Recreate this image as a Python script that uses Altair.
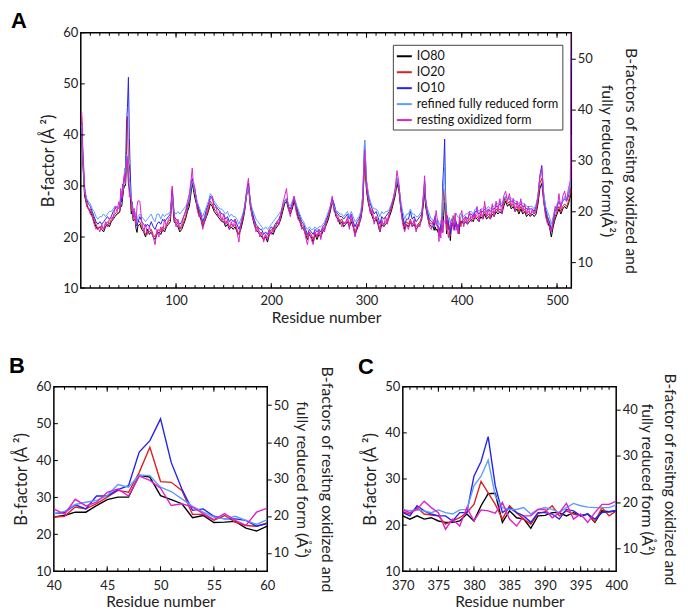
import altair as alt
import pandas as pd

SERIES = ["IO80", "IO20", "IO10", "refined fully reduced form", "resting oxidized form"]
COLORS = ["#000000", "#dd2222", "#2424ee", "#5c9dff", "#dd22cc"]

# rows: (residue, IO80, IO20, IO10, refined fully reduced, resting oxidized) -- B-factor (left axis units)
A_START = [
    (1, 41.5, 43.5, 42.5, 42, 44.5), (2, 35, 36, 37, 36, 38), (4, 28, 28.5, 29.5, 29, 30),
    (6, 26.5, 27, 27.5, 27.5, 26), (8, 25.5, 25.5, 26.5, 27, 25.5), (10, 25, 25.5, 26, 26.5, 24.5),
    (12, 24, 24.5, 25, 25.5, 24), (14, 23, 23.5, 24, 25, 22.5), (16, 22, 22.5, 23, 24, 21.5),
    (18, 21.5, 21.5, 22.5, 23.5, 22), (20, 22, 22, 23, 24, 21), (22, 21.5, 22, 22.5, 24, 22.5),
    (24, 21, 21.5, 23, 24.5, 21.5), (26, 22, 22.5, 23.5, 24, 23), (28, 22.5, 23, 24, 24.5, 22),
    (30, 22, 22.5, 23.5, 25, 23.5), (32, 23, 23.5, 24, 25, 24), (34, 23.5, 24, 25, 25.5, 23.5),
    (36, 24, 24.5, 25.5, 26, 26), (38, 24.5, 25, 26, 26, 25),
]

B_ZOOM = [
    (40, 24.7, 24.7, 25.6, 25.6, 26.9), (41, 25.1, 24.9, 25.9, 26.2, 25.4), (42, 26.0, 27.4, 28.0, 28.1, 29.5),
    (43, 26.0, 26.9, 26.9, 28.7, 27.7), (44, 27.8, 28.3, 30.4, 29.2, 28.7), (45, 29.4, 30.1, 30.4, 30.5, 31.4),
    (46, 30.1, 31.9, 32.1, 33.5, 32.3), (47, 30.1, 31.4, 33.2, 32.8, 30.4), (48, 36.0, 36.8, 42.3, 36.1, 35.8),
    (49, 35.5, 43.6, 45.4, 35.9, 34.6), (50, 30.5, 34.3, 51.3, 32.8, 32.5), (51, 29.4, 34.1, 39.5, 31.6, 27.8),
    (52, 28.3, 31.9, 32.3, 29.6, 28.3), (53, 24.5, 25.4, 26.5, 27.6, 27.4), (54, 25.1, 25.4, 26.9, 26.0, 25.6),
    (55, 23.2, 23.8, 24.9, 24.7, 24.0), (56, 23.3, 25.1, 24.2, 24.2, 25.6), (57, 23.5, 23.3, 24.2, 24.9, 23.8),
    (58, 21.7, 22.4, 23.8, 23.8, 22.4), (59, 20.9, 22.2, 22.2, 22.7, 26.0), (60, 22.2, 23.1, 22.9, 24.0, 27.1),
]

A_MID = [
    (62, 22.5, 23, 24, 24.5, 27), (64, 21.5, 22, 23, 24, 23), (66, 21, 21.5, 22.5, 23.5, 21),
    (68, 20, 20.5, 22, 23, 22.5), (70, 21.5, 21, 22.5, 23.5, 20.5), (72, 20.5, 21, 22, 24, 22),
    (74, 21, 21.5, 23, 24.5, 21), (76, 20, 20.5, 22, 23.5, 20), (78, 19.5, 20, 21.5, 23, 18.5),
    (80, 20.5, 21, 22.5, 24.5, 21.5), (82, 21, 21.5, 23, 24.5, 20), (84, 20.5, 21, 22.5, 23.5, 22),
    (86, 21.5, 22, 23.5, 24.5, 21), (88, 21, 21.5, 23, 24, 23.5), (90, 22, 22.5, 23.5, 24.5, 22),
    (92, 22.5, 23, 24, 24.5, 23.5), (94, 23, 23.5, 24.5, 25, 24), (96, 28.5, 29, 29.5, 28, 30),
    (98, 23, 23.5, 24, 25, 24.5), (100, 22.5, 23, 23.5, 24.5, 22), (102, 22, 22.5, 23, 25, 23.5),
    (104, 21, 21.5, 22.5, 24.5, 21.5), (106, 21.5, 22, 23, 25, 22.5), (108, 22.5, 23, 24, 25.5, 24),
    (110, 23.5, 24, 25, 26, 25), (112, 25, 25.5, 26, 26.5, 27), (114, 26, 27, 27.5, 27.5, 28.5),
    (116, 29, 30, 30.5, 30, 31.5), (117, 30.5, 31, 31.5, 31, 33.5), (118, 29.5, 30, 30, 30.5, 31),
    (120, 27.5, 28.5, 29, 28.5, 29.5), (122, 26, 26.5, 27, 27, 25.5), (124, 24.5, 25, 25.5, 26, 24),
    (126, 23.5, 24, 24.5, 25, 24.5), (128, 22, 22.5, 23, 24, 21.5), (130, 23, 23.5, 24, 25, 23),
    (132, 24, 24.5, 25.5, 26, 25), (134, 25, 25.5, 26.5, 27, 26), (136, 26.5, 27, 28, 28.5, 27.5),
    (138, 26, 26.5, 27.5, 28, 28), (140, 25, 25.5, 26.5, 27, 25.5), (142, 24.5, 25, 26, 26.5, 26),
    (144, 24, 24.5, 25.5, 26, 24), (146, 23.5, 24, 25, 25.5, 25), (148, 23, 23.5, 24.5, 25.5, 23),
    (150, 23, 23.5, 24.5, 25, 24.5), (152, 22, 22.5, 23.5, 24.5, 22.5), (154, 22.5, 23, 24, 25, 23.5),
    (156, 21.5, 22, 23, 24, 21.5), (158, 22, 22.5, 23.5, 24.5, 23), (160, 21.5, 22, 23, 24, 22),
    (162, 22, 22.5, 23.5, 24, 23.5), (164, 21, 21.5, 22.5, 23.5, 21), (166, 20.5, 20.5, 21.5, 22.5, 19),
    (168, 21.5, 22, 22.5, 23.5, 22.5), (170, 23, 23.5, 24, 24.5, 24), (172, 25, 25.5, 26, 26, 25.5),
    (174, 28, 28.5, 28.5, 28, 29), (176, 30, 30.5, 30.5, 30, 31.5), (178, 26, 26.5, 27, 27, 26.5),
    (180, 24, 24.5, 25, 25.5, 24), (182, 22.5, 23, 23.5, 24.5, 23), (184, 21.5, 22, 22.5, 23.5, 21),
    (186, 21, 21.5, 22, 23, 22), (188, 20.5, 21, 21.5, 22.5, 20), (190, 20, 20.5, 21.5, 22, 21),
    (192, 19.5, 19.5, 20.5, 21.5, 19), (194, 20, 20.5, 21, 22, 20.5), (196, 19, 19.5, 20.5, 21.5, 19.5),
    (198, 20.5, 21, 21.5, 22, 21.5), (200, 21, 21.5, 22, 22.5, 20.5), (202, 20.5, 21, 21.5, 23, 22),
    (204, 21.5, 22, 22.5, 23.5, 21.5), (206, 22, 22.5, 23, 24, 23), (208, 22.5, 23, 23.5, 24.5, 22.5),
    (210, 23.5, 24, 24.5, 25, 24.5), (212, 25, 25.5, 26, 26, 26.5), (214, 26.5, 27, 27, 27, 28),
    (216, 27, 27.5, 27.5, 27.5, 29.5), (218, 25.5, 26, 26, 26.5, 25.5), (220, 24.5, 25, 25.5, 26, 24),
    (222, 25.5, 26, 26.5, 27, 26.5), (224, 27, 27.5, 27.5, 28, 28), (226, 25.5, 26, 26.5, 26.5, 25),
    (228, 24, 24.5, 25, 25.5, 23.5), (230, 23, 23.5, 24, 24.5, 23), (232, 22, 22.5, 23, 23.5, 21.5),
    (234, 21.5, 22, 22.5, 23, 22), (236, 20.5, 21, 21.5, 22, 20), (238, 19.5, 20, 20.5, 21.5, 18.5),
    (240, 20.5, 21, 21.5, 22, 21), (242, 20, 20.5, 21, 21.5, 19.5), (244, 19, 19.5, 20.5, 21.5, 18.5),
    (246, 20.5, 21, 21.5, 22, 21), (248, 19.5, 20, 21, 21.5, 20), (250, 20.5, 21, 21.5, 22, 21.5),
    (252, 20, 20.5, 21, 22, 19.5), (254, 21, 21.5, 22, 22.5, 22), (256, 21.5, 22, 22.5, 23, 21),
    (258, 22.5, 23, 23.5, 24, 23.5), (260, 23.5, 24, 24.5, 25, 24), (262, 25, 25.5, 26, 26, 26),
    (264, 27, 27.5, 27.5, 27, 28), (266, 25.5, 26, 26.5, 26, 25), (268, 24, 24.5, 25, 25, 24.5),
    (270, 23.5, 24, 24.5, 25, 23), (272, 22.5, 23, 24, 24.5, 23.5), (274, 23, 23.5, 24, 24.5, 22),
    (276, 22, 22.5, 23.5, 24, 23), (278, 22.5, 23, 24, 24.5, 22.5), (280, 23, 23.5, 24.5, 25, 24),
    (282, 22, 22.5, 23.5, 24, 21.5), (284, 23, 23.5, 24.5, 25, 24.5), (286, 22, 22.5, 23, 24, 22),
    (288, 20.5, 21, 22, 23, 20), (290, 21.5, 22, 23, 23.5, 22.5), (292, 22.5, 23, 23.5, 24, 22),
    (294, 23.5, 24, 24.5, 25, 24), (296, 26, 26.5, 28, 28, 27), (298, 35, 36, 39, 39, 37),
    (300, 29, 29.5, 31, 31, 30), (302, 26.5, 27, 28, 28.5, 27.5), (304, 25, 25.5, 26.5, 27, 24.5),
    (306, 24, 24.5, 25.5, 26, 25.5), (308, 23, 23.5, 24.5, 25.5, 22.5), (310, 23.5, 24, 25, 25.5, 24),
    (312, 22.5, 23, 24, 25, 23), (314, 21, 21.5, 22.5, 24, 21), (316, 22.5, 23, 24, 25, 23.5),
    (318, 22, 22.5, 23.5, 24.5, 22), (320, 22.5, 23, 24, 25, 24), (322, 23, 23.5, 24.5, 25, 22.5),
    (324, 24, 24.5, 25, 25.5, 25), (326, 25, 25.5, 26, 26.5, 26), (328, 26.5, 27, 27.5, 27.5, 27.5),
    (330, 28, 28.5, 29, 29, 29.5), (332, 30.5, 31, 31.5, 31.5, 33), (334, 29, 29.5, 30, 30, 30.5),
    (336, 25.5, 26, 26.5, 27, 25.5), (338, 23, 23.5, 24, 25, 22.5), (340, 21.5, 22, 22.5, 23.5, 21),
    (342, 22.5, 23, 23.5, 24.5, 22.5), (344, 22, 22.5, 23.5, 24.5, 21.5), (346, 23, 23.5, 25, 25.5, 23),
    (348, 22, 22.5, 23.5, 24.5, 22), (350, 22.5, 23, 24, 24.5, 23.5), (352, 21.5, 22, 23, 24, 21),
    (354, 22, 22.5, 23.5, 24, 22.5), (356, 22.5, 23, 24, 24.5, 22), (358, 23.5, 24, 24.5, 25, 24),
    (360, 27, 28, 28.5, 28.5, 29), (361, 29, 30.5, 31, 30.5, 32), (362, 26, 27, 27.5, 27, 27.5),
    (364, 24, 24.5, 25, 25.5, 24), (366, 22.5, 23, 23.5, 24.5, 22), (368, 22, 22.5, 23, 23.5, 21.5),
]

C_ZOOM = [
    (370, 22.0, 22.9, 22.7, 23.4, 23.3), (371, 21.3, 22.4, 22.0, 23.1, 22.7), (372, 22.0, 23.8, 24.2, 23.3, 23.4),
    (373, 21.3, 22.4, 23.1, 23.1, 25.2), (374, 21.6, 22.2, 22.4, 22.7, 23.8), (375, 20.9, 22.0, 22.0, 23.3, 22.7),
    (376, 20.6, 20.2, 22.0, 22.7, 19.1), (377, 20.6, 20.9, 20.9, 22.4, 21.3), (378, 20.9, 21.6, 22.7, 23.3, 19.8),
    (379, 22.4, 22.7, 22.7, 23.4, 23.8), (380, 20.9, 24.5, 30.6, 28.5, 20.9), (381, 24.2, 29.5, 33.8, 30.6, 23.3),
    (382, 26.8, 27.0, 39.2, 34.1, 23.1), (383, 26.9, 24.5, 28.5, 26.3, 22.6), (384, 20.6, 21.3, 22.7, 23.8, 24.9),
    (385, 23.1, 24.2, 23.8, 23.4, 21.3), (386, 21.6, 22.7, 22.7, 23.4, 19.8), (387, 21.3, 21.3, 22.0, 23.8, 22.0),
    (388, 19.3, 20.2, 20.6, 22.4, 22.0), (389, 22.0, 22.5, 22.7, 23.4, 23.4), (390, 22.1, 22.9, 22.7, 23.8, 23.4),
    (391, 22.7, 24.2, 22.4, 23.4, 21.6), (392, 22.7, 22.0, 21.3, 22.7, 22.7), (393, 22.0, 23.1, 23.4, 23.8, 24.7),
    (394, 22.7, 22.4, 23.1, 24.7, 21.3), (395, 22.0, 22.0, 22.0, 24.2, 22.4), (396, 22.4, 22.4, 22.4, 23.9, 20.6),
    (397, 20.6, 20.7, 21.3, 23.8, 22.7), (398, 23.1, 23.8, 22.7, 23.8, 24.5), (399, 22.9, 22.0, 22.9, 23.8, 24.5),
    (400, 23.1, 23.1, 23.1, 24.4, 25.2),
]

A_END = [
    (402, 22.5, 23, 23.5, 24, 22), (404, 23, 23.5, 24, 24.5, 24), (406, 22.5, 23, 23.5, 24.5, 22.5),
    (408, 23, 23.5, 24.5, 25, 25), (410, 23.5, 24, 24.5, 25, 23), (412, 23, 23.5, 24, 24.5, 24.5),
    (414, 24, 24.5, 25, 25.5, 23.5), (416, 23.5, 24, 25, 25.5, 26), (418, 23, 23.5, 24.5, 25, 23),
    (420, 24, 24.5, 25, 25.5, 25.5), (422, 23.5, 24, 25, 25.5, 23.5), (424, 24.5, 25, 25.5, 26, 27),
    (426, 23.5, 24, 25, 25.5, 24), (428, 24, 24.5, 25.5, 26, 25.5), (430, 23.5, 24, 25, 25.5, 23.5),
    (432, 24.5, 25, 25.5, 26, 26.5), (434, 24, 24.5, 25.5, 26, 24), (436, 25, 25.5, 26, 26.5, 27),
    (438, 24.5, 25, 26, 26.5, 25), (440, 25, 25.5, 26.5, 27, 27.5), (442, 24.5, 25, 26, 26.5, 24.5),
    (444, 26, 26.5, 27, 27.5, 28), (446, 27, 27.5, 28, 28, 29), (448, 26, 26.5, 27.5, 27.5, 27),
    (450, 26.5, 27, 27.5, 28, 28.5), (452, 25.5, 26, 27, 27.5, 26), (454, 26, 26.5, 27, 27.5, 27.5),
    (456, 25, 25.5, 26.5, 27, 25), (458, 25.5, 26, 26.5, 27, 27), (460, 24.5, 25, 26, 26.5, 25.5),
    (462, 25.5, 26, 26.5, 27, 27.5), (464, 24.5, 25, 26, 26.5, 25), (466, 25, 25.5, 26, 26.5, 26.5),
    (468, 24, 24.5, 25.5, 26, 24.5), (470, 24.5, 25, 25.5, 26, 26), (472, 24, 24.5, 25.5, 26, 24),
    (474, 24.5, 25, 25.5, 26, 25.5), (476, 24, 24.5, 25, 25.5, 24.5), (478, 24.5, 25, 26, 26.5, 25.5),
    (480, 26.5, 27, 28, 28, 28), (482, 29.5, 30.5, 32, 31.5, 32), (484, 30.5, 31.5, 34, 33, 33.5),
    (486, 27, 27.5, 28.5, 28.5, 27), (488, 24.5, 25, 25.5, 26, 24), (490, 23, 23.5, 24, 25, 22.5),
    (492, 22, 22.5, 23, 24, 22), (494, 20, 21, 21.5, 22.5, 21), (496, 22, 22.5, 23, 24, 23.5),
    (498, 23.5, 24, 25, 25.5, 26), (500, 24.5, 25, 26, 26.5, 25), (502, 25.5, 26, 27, 27, 28.5),
    (504, 24.5, 25, 26, 26.5, 25.5), (506, 25.5, 26, 27, 27, 28), (508, 26, 26.5, 27.5, 28, 29),
    (510, 25.5, 26, 27, 27.5, 27), (512, 26.5, 27, 28, 28.5, 29.5), (514, 28, 28.5, 30, 30, 31),
    (515, 33, 35, 56, 40, 60),
]

LEFT_TITLE = "B-factor (Å ²)"
RIGHT_TITLE_A = ["B-factors of resitng oxidized and", "fully reduced form(Å²)"]
RIGHT_TITLE_B = ["B-factors of resitng oxidized and", "fully reduced form (Å²)"]
RIGHT_TITLE_C = ["B-factor of resitng oxidized and", "fully reduced form (Å²)"]

FONT = "Lato"


def to_long(rows):
    recs = []
    for r in rows:
        for i, s in enumerate(SERIES):
            recs.append({"res": r[0], "val": r[i + 1], "series": s, "ord": i})
    df = pd.DataFrame(recs)
    return df.sort_values(["ord", "res"]).reset_index(drop=True)


def panel(rows, xdom, ydom, w, h, xlabels, minor, major, yvals, rvals, rtitle,
          letter, lx, ly, legend, sw, rpad, rlh, rfs, xlp, xtp):
    df = to_long(rows)
    xs = alt.Scale(domain=xdom, nice=False, zero=False)
    ys = alt.Scale(domain=ydom, nice=False, zero=False)
    xax = alt.Axis(values=xlabels, title="Residue number", tickSize=0, domain=False, grid=False,
                   labelOverlap=False, labelFlush=False, labelPadding=xlp, titlePadding=xtp)
    yax = alt.Axis(values=yvals, title=LEFT_TITLE, tickSize=0, domain=False, grid=False,
                   labelOverlap=False, labelFlush=False, labelPadding=3, titlePadding=6,
                   titleFontSize=16.5)
    lines = alt.Chart(df).mark_line(strokeWidth=sw, clip=True).encode(
        x=alt.X("res:Q", scale=xs, axis=xax),
        y=alt.Y("val:Q", scale=ys, axis=yax),
        color=alt.Color("series:N", scale=alt.Scale(domain=SERIES, range=COLORS), legend=legend),
        detail="ord:Q",
    )

    def xt(vals, length, top):
        d = pd.DataFrame({"t": vals})
        y0, y1 = (0, length) if top else (h, h - length)
        return alt.Chart(d).mark_rule(color="black", strokeWidth=1).encode(
            x=alt.X("t:Q", scale=xs, axis=xax), y=alt.value(y0), y2=alt.value(y1))

    ytk = alt.Chart(pd.DataFrame({"t": yvals})).mark_rule(color="black", strokeWidth=1).encode(
        y=alt.Y("t:Q", scale=ys, axis=yax), x=alt.value(0), x2=alt.value(4))

    left = alt.layer(lines, xt(minor, 3, False), xt(minor, 3, True),
                     xt(major, 5, False), xt(major, 5, True), ytk)

    rdom = [ydom[0] - 5, ydom[1] - 5]
    right = alt.Chart(pd.DataFrame({"r": [rdom[0]]})).mark_point(opacity=0).encode(
        x=alt.value(0),
        y=alt.Y("r:Q", scale=alt.Scale(domain=rdom, nice=False, zero=False),
                axis=alt.Axis(orient="right", values=rvals, title=rtitle, tickSize=4,
                              tickColor="black", domain=False, grid=False,
                              labelOverlap=False, labelFlush=False,
                              labelPadding=2, titlePadding=rpad, titleLineHeight=rlh,
                              titleFontSize=rfs)),
    )
    label = alt.Chart(pd.DataFrame({"a": [0]})).mark_text(
        text=letter, fontSize=22, fontWeight="bold", font="Liberation Sans",
        align="left", baseline="top", color="black").encode(x=alt.value(lx), y=alt.value(ly))

    return alt.layer(left, right, label).resolve_scale(y="independent").properties(width=w, height=h)


legend_a = alt.Legend(orient="none", legendX=313, legendY=12, title=None, strokeColor="#444",
                      fillColor="white", padding=3, symbolType="stroke", symbolStrokeWidth=2,
                      symbolSize=225, labelFontSize=12.5, labelFont=FONT, labelColor="#111",
                      rowPadding=1, labelOffset=4)

pa = panel(A_START + B_ZOOM + A_MID + C_ZOOM + A_END, [0, 515], [10, 60], 492, 256,
           [100, 200, 300, 400, 500], list(range(10, 515, 10)), [100, 200, 300, 400, 500],
           [10, 20, 30, 40, 50, 60], [10, 20, 30, 40, 50], RIGHT_TITLE_A, "A", -70, -22,
           legend_a, 1.0, 6, 24, 16, 6, 4)

pb = panel(B_ZOOM, [40, 60], [10, 60], 214, 185, [40, 45, 50, 55, 60],
           list(range(41, 60)), [45, 50, 55], [10, 20, 30, 40, 50, 60], [10, 20, 30, 40, 50],
           RIGHT_TITLE_B, "B", -45, -31, None, 1.4, 5, 25, 16, 8, 2)

pc = panel(C_ZOOM, [370, 400], [10, 50], 214, 185, [370, 375, 380, 385, 390, 395, 400],
           list(range(371, 400)), [375, 380, 385, 390, 395], [10, 20, 30, 40, 50], [10, 20, 30, 40],
           RIGHT_TITLE_C, "C", -45, -30, None, 1.4, 1, 23, 15.5, 8, 2)

spacer = alt.Chart(pd.DataFrame({"a": [0]})).mark_point(opacity=0).encode(
    x=alt.value(0), y=alt.value(0)
).properties(width=17, height=10, view=alt.ViewBackground(stroke=None))

top_row = alt.hconcat(spacer, pa, spacing=10, bounds="flush").resolve_scale(color="independent")
bottom_row = alt.hconcat(pb, pc, spacing=136, bounds="flush").resolve_scale(color="independent")
chart = alt.vconcat(top_row, bottom_row, spacing=355, bounds="flush").resolve_scale(
    color="independent"
).properties(
    padding={"left": 0, "top": 0, "right": 3, "bottom": 0}
).configure_view(stroke="black", strokeWidth=1.5).configure_axis(
    labelFont=FONT, titleFont=FONT, labelFontSize=13, titleFontSize=15.5,
    titleFontWeight="normal", labelColor="#222", titleColor="#222"
)

chart.save("out.html", embed_options={"renderer": "svg", "actions": False})
